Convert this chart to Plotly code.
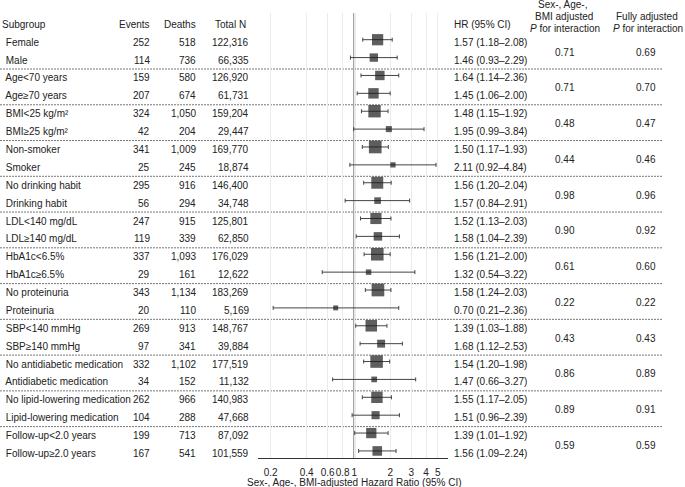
import math
import plotly.graph_objects as go

# ---------------- data ----------------
subgroups = ["Female", "Male", "Age<70 years", "Age≥70 years", "BMI<25 kg/m²", "BMI≥25 kg/m²",
             "Non-smoker", "Smoker", "No drinking habit", "Drinking habit", "LDL<140 mg/dL",
             "LDL≥140 mg/dL", "HbA1c<6.5%", "HbA1c≥6.5%", "No proteinuria", "Proteinuria",
             "SBP<140 mmHg", "SBP≥140 mmHg", "No antidiabetic medication", "Antidiabetic medication",
             "No lipid-lowering medication", "Lipid-lowering medication",
             "Follow-up<2.0 years", "Follow-up≥2.0 years"]
events = [252, 114, 159, 207, 324, 42, 341, 25, 295, 56, 247, 119,
          337, 29, 343, 20, 269, 97, 332, 34, 262, 104, 199, 167]
deaths = [518, 736, 580, 674, 1050, 204, 1009, 245, 916, 294, 915, 339,
          1093, 161, 1134, 110, 913, 341, 1102, 152, 966, 288, 713, 541]
total_n = [122316, 66335, 126920, 61731, 159204, 29447, 169770, 18874, 146400, 34748, 125801, 62850,
           176029, 12622, 183269, 5169, 148767, 39884, 177519, 11132, 140983, 47668, 87092, 101559]
hr = [1.57, 1.46, 1.64, 1.45, 1.48, 1.95, 1.50, 2.11, 1.56, 1.57, 1.52, 1.58,
      1.56, 1.32, 1.58, 0.70, 1.39, 1.68, 1.54, 1.47, 1.55, 1.51, 1.39, 1.56]
ci_low = [1.18, 0.93, 1.14, 1.06, 1.15, 0.99, 1.17, 0.92, 1.20, 0.84, 1.13, 1.04,
          1.21, 0.54, 1.24, 0.21, 1.03, 1.12, 1.20, 0.66, 1.17, 0.96, 1.01, 1.09]
ci_high = [2.08, 2.29, 2.36, 2.00, 1.92, 3.84, 1.93, 4.84, 2.04, 2.91, 2.03, 2.39,
           2.00, 3.22, 2.03, 2.36, 1.88, 2.53, 1.98, 3.27, 2.05, 2.39, 1.92, 2.24]
p_sab = ["0.71", "0.71", "0.48", "0.44", "0.98", "0.90", "0.61", "0.22", "0.43", "0.86", "0.89", "0.59"]
p_full = ["0.69", "0.70", "0.47", "0.46", "0.96", "0.92", "0.60", "0.22", "0.43", "0.89", "0.91", "0.59"]
tick_vals = [0.2, 0.4, 0.6, 0.8, 1, 2, 3, 4, 5]
tick_text = ["0.2", "0.4", "0.6", "0.8", "1", "2", "3", "4", "5"]

# ---------------- layout constants ----------------
W, H = 685, 487
TOP, BOT = 13, 458
ROW0, STEP = 39.7, 17.88
FONT = "Liberation Sans, Arial, sans-serif"
TXT = "#222222"
TSHIFT = -2.5

rows = list(range(len(subgroups)))


def px(x):
    return x / W


def py(y):
    return (BOT - y) / (BOT - TOP)


def esc(s):
    return s.replace("&", "&amp;").replace("<", "&lt;").replace(">", "&gt;")


fig = go.Figure()
fig.add_trace(go.Scatter(
    x=hr, y=rows, mode="markers",
    marker=dict(symbol="square", color="#1a1a1a",
                size=[2.5 + 0.55 * math.sqrt(e) for e in events], line=dict(width=0)),
    error_x=dict(type="data", symmetric=False,
                 array=[h - v for h, v in zip(ci_high, hr)],
                 arrayminus=[v - l for v, l in zip(hr, ci_low)],
                 color="#444444", thickness=1, width=2),
    cliponaxis=False, hoverinfo="skip", showlegend=False))

ann = []


def add_text(text, x, y, anchor, yref="y", shift=TSHIFT, **kw):
    ann.append(dict(text=text, x=px(x), xref="paper", y=y, yref=yref, xanchor=anchor,
                    yanchor="middle", showarrow=False, yshift=shift,
                    font=dict(family=FONT, size=10, color=TXT), **kw))


# headers
add_text("Subgroup", 0, -1, "left")
add_text("Events", 152, -1, "right")
add_text("Deaths", 197.5, -1, "right")
add_text("Total N", 247.5, -1, "right")
add_text("HR (95% CI)", 452, -1, "left")
add_text("Sex-, Age-,", 562, py(5), "center", yref="paper", shift=0)
add_text("BMI adjusted", 564, py(16.5), "center", yref="paper", shift=0)
add_text("<i>P</i> for interaction", 565, py(28.5), "center", yref="paper", shift=0)
add_text("Fully adjusted", 647, py(16.5), "center", yref="paper", shift=0)
add_text("<i>P</i> for interaction", 648, py(28.5), "center", yref="paper", shift=0)

for i, name in enumerate(subgroups):
    add_text(" " + esc(name), 1, i, "left")
    add_text(f"{events[i]:,}", 152, i, "right")
    add_text(f"{deaths[i]:,}", 197.5, i, "right")
    add_text(f"{total_n[i]:,}", 251, i, "right")
    add_text(f"{hr[i]:.2f} ({ci_low[i]:.2f}–{ci_high[i]:.2f})", 452, i, "left")

for g in range(len(p_sab)):
    add_text(p_sab[g], 565, 2 * g + 0.5, "center", shift=TSHIFT - 1)
    add_text(p_full[g], 646, 2 * g + 0.5, "center", shift=TSHIFT - 1)

# axis title
add_text("Sex-, Age-, BMI-adjusted Hazard Ratio (95% CI)", 354, py(482), "center",
         yref="paper", shift=0)

shapes = []
# reference line at HR = 1
shapes.append(dict(type="line", xref="x", x0=1, x1=1, yref="paper", y0=0, y1=1,
                   line=dict(color="#8f8f8f", width=2), layer="between"))
# dashed group separators
for g in range(len(p_sab) - 1):
    shapes.append(dict(type="line", xref="paper", x0=0, x1=px(663),
                       yref="y", ysizemode="pixel", yanchor=2 * g + 1.5, y0=TSHIFT, y1=TSHIFT,
                       line=dict(color="#777777", width=1, dash="2px,1px"), layer="between"))

fig.update_layout(
    width=W, height=H,
    margin=dict(l=0, r=0, t=TOP, b=H - BOT),
    paper_bgcolor="white", plot_bgcolor="white",
    font=dict(family=FONT, size=10, color=TXT),
    xaxis=dict(type="log", domain=[px(258), px(448)], range=[-0.805, 0.785],
               tickvals=tick_vals, ticktext=tick_text, tickangle=0,
               showgrid=True, gridcolor="#ebebeb", gridwidth=1,
               showline=True, linecolor="#333333", linewidth=1, ticks="",
               ticklabelstandoff=5,
               tickfont=dict(family=FONT, size=10, color=TXT), fixedrange=True),
    yaxis=dict(range=[(BOT - ROW0) / STEP, (TOP - ROW0) / STEP], visible=False, fixedrange=True),
    annotations=ann, shapes=shapes, showlegend=False,
)

fig.write_html("out.html", config={"displayModeBar": False},
               post_script="document.body.style.margin='0';document.body.style.padding='0';")
